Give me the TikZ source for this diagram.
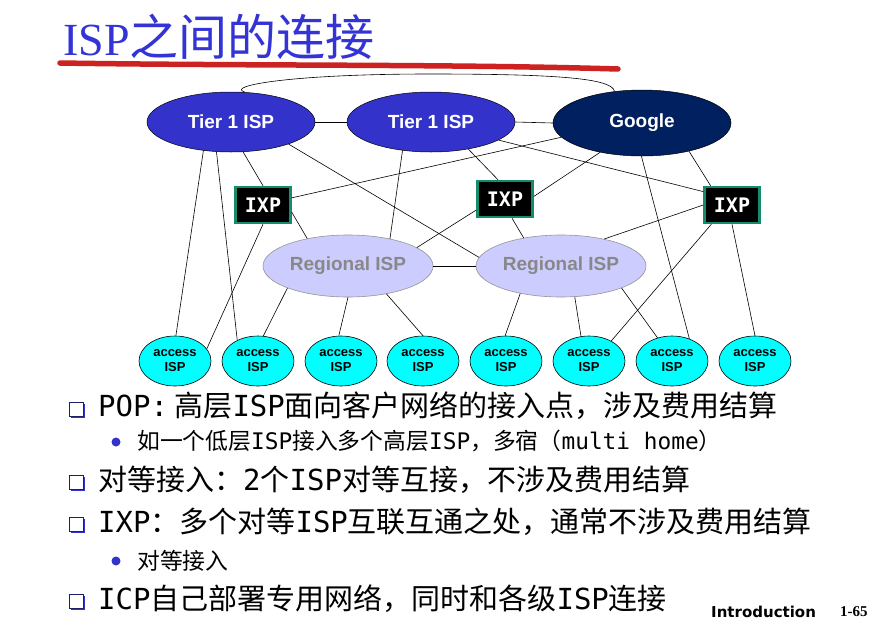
\documentclass[tikz,border=0pt]{standalone}
\usepackage{fontspec}
\setmainfont{Liberation Sans}
\newfontfamily\cjk{Noto Sans CJK SC}
\newfontfamily\titleserif{Liberation Serif}
\newfontfamily\ixpfont{DejaVu Sans Mono}
\newfontfamily\latinmono{DejaVu Sans Mono}
\newfontfamily\footfont{DejaVu Sans}
\newcommand{\latn}[1]{{\latinmono #1}}
\usetikzlibrary{shapes.geometric,shadows}
\definecolor{tierblue}{RGB}{51,51,204}
\definecolor{googleblue}{RGB}{0,32,96}
\definecolor{regfill}{RGB}{204,204,255}
\definecolor{regtext}{RGB}{136,136,136}
\definecolor{regborder}{RGB}{150,150,150}
\definecolor{ixpgreen}{RGB}{22,140,108}
\definecolor{accesscyan}{RGB}{0,255,255}
\definecolor{titleblue}{RGB}{51,51,214}
\definecolor{redstroke}{RGB}{204,34,34}
\definecolor{bulletdark}{RGB}{30,30,110}
\begin{document}
\begin{tikzpicture}[x=1pt,y=-1pt,
  conn/.style={draw=black, line width=0.6pt},
  tier/.style={ellipse, draw=black, line width=0.5pt, fill=tierblue, minimum width=168pt, minimum height=60pt, inner sep=0pt, text=white, font=\bfseries\fontsize{19}{22}\selectfont},
  googlestyle/.style={tier, fill=googleblue, minimum width=178pt, minimum height=66pt},
  ixpbox/.style={rectangle, draw=ixpgreen, line width=2.5pt, fill=black, minimum width=55pt, minimum height=36pt, inner sep=0pt, text=white, font=\ixpfont\bfseries\fontsize{20}{22}\selectfont},
  regional/.style={ellipse, draw=regborder, line width=0.6pt, fill=regfill, minimum width=170pt, minimum height=62pt, inner sep=0pt, text=regtext, font=\bfseries\fontsize{19}{22}\selectfont},
  accessisp/.style={ellipse, draw=black, line width=0.6pt, fill=accesscyan, minimum width=72pt, minimum height=50pt, inner sep=0pt, align=center, font=\bfseries\fontsize{13}{15}\selectfont},
  bigtext/.style={anchor=west, inner sep=0pt, font=\cjk\fontsize{29}{31}\selectfont},
  subtext/.style={anchor=west, inner sep=0pt, font=\cjk\fontsize{22.8}{25}\selectfont},
  sqbullet/.style={rectangle, draw=bulletdark, line width=1pt, fill=white, minimum size=14pt, inner sep=0pt, drop shadow={shadow xshift=2pt, shadow yshift=-2pt, fill=tierblue, opacity=1}},
  dotbullet/.style={circle, fill=tierblue, minimum size=9pt, inner sep=0pt}
]
\useasboundingbox (0,0) rectangle (880,643);
\fill[white] (0,0) rectangle (880,643);

% title
\draw[redstroke, line width=5.5pt, line cap=round] (60,63) .. controls (250,66) and (450,64) .. (618,69);
\node[anchor=base west, inner sep=0pt, text=titleblue] (title) at (63,55) {\titleserif\fontsize{46}{50}\selectfont ISP{\cjk\fontsize{49}{50}\selectfont 之间的连接}};

% nodes
\node[tier] (t1a) at (231,122) {Tier 1 ISP};
\node[tier] (t1b) at (431,122) {Tier 1 ISP};
\node[googlestyle] (g) at (642,123) {Google};
\node[ixpbox] (x1) at (263,205) {IXP};
\node[ixpbox] (x2) at (505,199) {IXP};
\node[ixpbox] (x3) at (732,205) {IXP};
\node[regional] (r1) at (348,266) {Regional ISP};
\node[regional] (r2) at (561,266) {Regional ISP};
\node[accessisp] (a1) at (175,361) {access\\ISP};
\node[accessisp] (a2) at (258,361) {access\\ISP};
\node[accessisp] (a3) at (341,361) {access\\ISP};
\node[accessisp] (a4) at (423,361) {access\\ISP};
\node[accessisp] (a5) at (506,361) {access\\ISP};
\node[accessisp] (a6) at (589,361) {access\\ISP};
\node[accessisp] (a7) at (672,361) {access\\ISP};
\node[accessisp] (a8) at (755,361) {access\\ISP};

% connectors
\draw[conn] (t1a.east) -- (t1b.west);
\draw[conn] (t1b.east) -- (g.west);
\draw[conn] (t1a.65) .. controls (225,86) and (290,74) .. (430,74) .. controls (565,74) and (612,79) .. (g.131);
\draw[conn] (t1a.226) -- (a1.88);
\draw[conn] (t1a.244) -- (a2.135);
\draw[conn] (t1a.292) -- (x1.north);
\draw[conn] (t1a.339) -- (r2.174);
\draw[conn] (t1b.225) -- (r1.33);
\draw[conn] (t1b.324) -- (x2.110);
\draw[conn] (t1b.345) -- (x3.155);
\draw[conn] (g.190) -- (x1.14);
\draw[conn] (g.215) -- (x2.5);
\draw[conn] (g.329) -- (x3.138);
\draw[conn] (g.269) -- (a7.52);
\draw[conn] (x1.south) -- (a1.21);
\draw[conn] (x1.346) -- (r1.146);
\draw[conn] (x2.201) -- (r1.15);
\draw[conn] (x2.290) -- (r2.143);
\draw[conn] (x3.west) -- (r2.32);
\draw[conn] (x3.223) -- (a6.42);
\draw[conn] (x3.south) -- (a8.north);
\draw[conn] (r1.east) -- (r2.west);
\draw[conn] (r1.200) -- (a2.78);
\draw[conn] (r1.south) -- (a3.95);
\draw[conn] (r1.324) -- (a4.north);
\draw[conn] (r2.214) -- (a5.92);
\draw[conn] (r2.294) -- (a6.108);
\draw[conn] (r2.340) -- (a7.122);

% bullet text
\node[sqbullet] (b1) at (76,409) {};
\node[bigtext] (l1) at (98,406) {\latn{POP:} 高层\latn{ISP}面向客户网络的接入点，涉及费用结算};
\node[dotbullet] (d1) at (116,442) {};
\node[subtext] (l2) at (137,441) {如一个低层\latn{ISP}接入多个高层\latn{ISP}，多宿（\latn{multi home}）};
\node[sqbullet] (b2) at (76,482) {};
\node[bigtext] (l3) at (98,480) {对等接入：\latn{2}个\latn{ISP}对等互接，不涉及费用结算};
\node[sqbullet] (b3) at (76,524) {};
\node[bigtext] (l4) at (98,522) {\latn{IXP}：多个对等\latn{ISP}互联互通之处，通常不涉及费用结算};
\node[dotbullet] (d2) at (116,561) {};
\node[subtext] (l5) at (137,561) {对等接入};
\node[sqbullet] (b4) at (76,601) {};
\node[bigtext] (l6) at (98,599) {\latn{ICP}自己部署专用网络，同时和各级\latn{ISP}连接};

% footer
\node[anchor=west, inner sep=0pt, font=\footfont\bfseries\fontsize{15}{17}\selectfont] (intro) at (711,612) {Introduction};
\node[anchor=west, inner sep=0pt, font=\titleserif\bfseries\fontsize{15}{17}\selectfont] (pagenum) at (840,612) {1-65};
\end{tikzpicture}
\end{document}
